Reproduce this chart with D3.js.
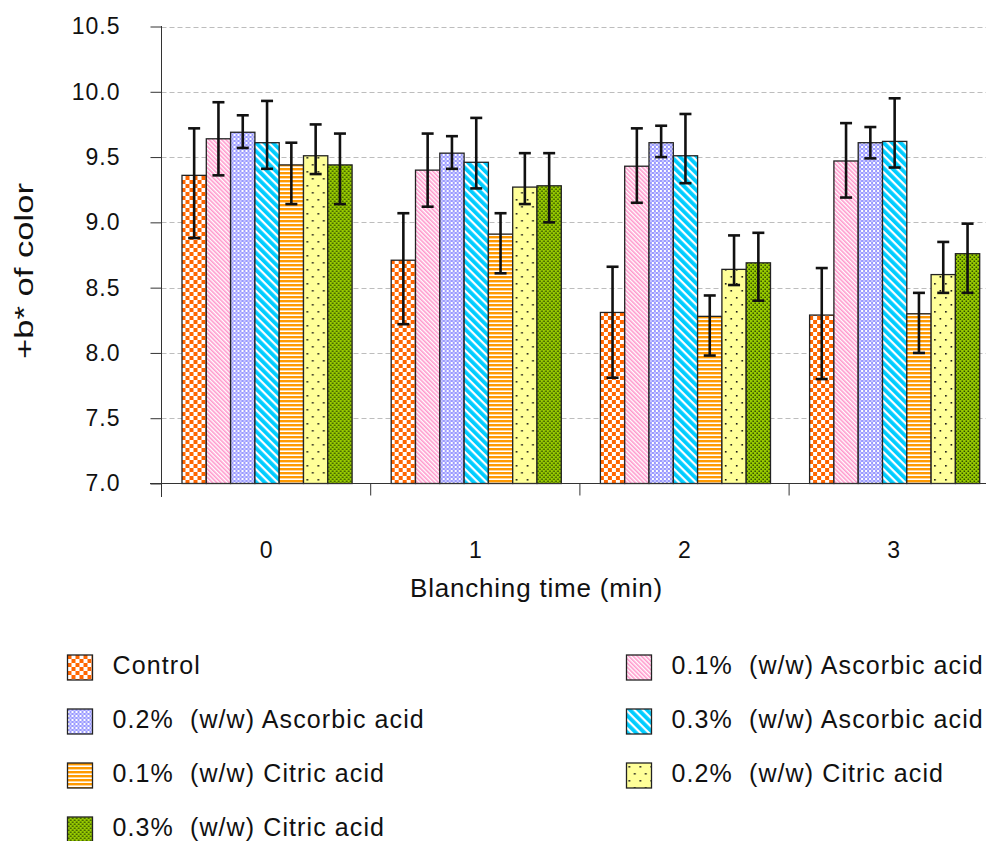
<!DOCTYPE html>
<html>
<head>
<meta charset="utf-8">
<script src="https://cdn.jsdelivr.net/npm/d3@7"></script>
<style>
  html, body { margin: 0; padding: 0; background: #fff; }
  svg { display: block; }
  text { font-family: "Liberation Sans", Arial, sans-serif; fill: #111; }
</style>
</head>
<body>
<svg id="chart" width="986" height="841"></svg>
<script>
// Blanching time groups (minutes)
const categories = ["0", "1", "2", "3"];

// Treatments, in legend order
const series = [
  "Control",
  "0.1% (w/w) Ascorbic acid",
  "0.2% (w/w) Ascorbic acid",
  "0.3% (w/w) Ascorbic acid",
  "0.1% (w/w) Citric acid",
  "0.2% (w/w) Citric acid",
  "0.3% (w/w) Citric acid"
];

// Mean +b* per treatment, one array per blanching time
const means0 = [9.36, 9.64, 9.69, 9.61, 9.44, 9.51, 9.44];
const means1 = [8.71, 9.40, 9.53, 9.46, 8.91, 9.27, 9.28];
const means2 = [8.31, 9.43, 9.61, 9.51, 8.28, 8.64, 8.69];
const means3 = [8.29, 9.47, 9.61, 9.62, 8.30, 8.60, 8.76];

// Upper and lower ends of the error bars
const upper0 = [9.72, 9.92, 9.82, 9.93, 9.61, 9.75, 9.68];
const lower0 = [8.88, 9.36, 9.57, 9.41, 9.14, 9.37, 9.14];
const upper1 = [9.07, 9.68, 9.66, 9.80, 9.07, 9.53, 9.53];
const lower1 = [8.22, 9.12, 9.41, 9.26, 8.61, 9.14, 9.00];
const upper2 = [8.66, 9.72, 9.74, 9.83, 8.44, 8.90, 8.92];
const lower2 = [7.81, 9.15, 9.50, 9.30, 7.98, 8.52, 8.40];
const upper3 = [8.65, 9.76, 9.73, 9.95, 8.46, 8.85, 8.99];
const lower3 = [7.80, 9.19, 9.49, 9.42, 8.00, 8.46, 8.46];

const yTicks = [7.0, 7.5, 8.0, 8.5, 9.0, 9.5, 10.0, 10.5];

const meansByGroup = [means0, means1, means2, means3];
const upperByGroup = [upper0, upper1, upper2, upper3];
const lowerByGroup = [lower0, lower1, lower2, lower3];

const rows = [];
categories.forEach((c, gi) => {
  series.forEach((s, si) => {
    rows.push({ cat: c, ser: s, si, v: meansByGroup[gi][si], hi: upperByGroup[gi][si], lo: lowerByGroup[gi][si] });
  });
});

const svg = d3.select("#chart");
const defs = svg.append("defs");

// ---- fill patterns ----
function pat(id, w, h, transform) {
  const p = defs.append("pattern").attr("id", id)
    .attr("patternUnits", "userSpaceOnUse").attr("width", w).attr("height", h);
  if (transform) p.attr("patternTransform", transform);
  return p;
}
// Control: orange checkerboard
let p = pat("p0", 8, 8);
p.append("rect").attr("width", 8).attr("height", 8).attr("fill", "#fff");
p.append("rect").attr("width", 4).attr("height", 4).attr("fill", "#FF6600");
p.append("rect").attr("x", 4).attr("y", 4).attr("width", 4).attr("height", 4).attr("fill", "#FF6600");
// 0.1% AA: fine pink downward diagonal
p = pat("p1", 3, 3, "rotate(-45)");
p.append("rect").attr("width", 3).attr("height", 3).attr("fill", "#fff");
p.append("rect").attr("width", 1.6).attr("height", 3).attr("fill", "#FF99CC");
// 0.2% AA: small lavender check
p = pat("p2", 4, 4);
p.append("rect").attr("width", 4).attr("height", 4).attr("fill", "#fff");
p.append("rect").attr("width", 2).attr("height", 2).attr("fill", "#9999FF");
p.append("rect").attr("x", 2).attr("y", 2).attr("width", 2).attr("height", 2).attr("fill", "#9999FF");
p.append("rect").attr("x", 2).attr("y", 0).attr("width", 2).attr("height", 2).attr("fill", "#C8C8FF");
// 0.3% AA: wide cyan downward diagonal
p = pat("p3", 6, 6, "rotate(-45)");
p.append("rect").attr("width", 6).attr("height", 6).attr("fill", "#fff");
p.append("rect").attr("width", 3.8).attr("height", 6).attr("fill", "#00CCFF");
// 0.1% CA: orange horizontal stripes
p = pat("p4", 4, 4);
p.append("rect").attr("width", 4).attr("height", 4).attr("fill", "#fff");
p.append("rect").attr("width", 4).attr("height", 2.4).attr("fill", "#FF9900");
// 0.2% CA: light yellow with sparse dots
p = pat("p5", 11, 14);
p.append("rect").attr("width", 11).attr("height", 14).attr("fill", "#FFFF99");
p.append("rect").attr("x", 2).attr("y", 3).attr("width", 1.6).attr("height", 1.6).attr("fill", "#111");
p.append("rect").attr("x", 7.5).attr("y", 10).attr("width", 1.6).attr("height", 1.6).attr("fill", "#111");
// 0.3% CA: green with dense dark dots
p = pat("p6", 4, 4);
p.append("rect").attr("width", 4).attr("height", 4).attr("fill", "#99CC00");
p.append("rect").attr("x", 0.5).attr("y", 0.5).attr("width", 1.5).attr("height", 1.5).attr("fill", "#2E4A00");
p.append("rect").attr("x", 2.5).attr("y", 2.5).attr("width", 1.5).attr("height", 1.5).attr("fill", "#2E4A00");

const fillFor = i => `url(#p${i})`;

// ---- scales ----
const plotLeft = 161.5, bandW = 209.2;
const x0 = d3.scaleBand().domain(categories).range([plotLeft, plotLeft + bandW * categories.length]).padding(0);
const x1 = d3.scaleBand().domain(series).range([20.5, 20.5 + 24.3 * series.length]).padding(0);
const y = d3.scaleLinear().domain([7.0, 10.5]).range([483.5, 26.5]);

// ---- gridlines ----
svg.append("g").selectAll("line").data(yTicks.filter(t => t > 7.0)).join("line")
  .attr("x1", plotLeft).attr("x2", 986)
  .attr("y1", d => Math.round(y(d)) + 0.5).attr("y2", d => Math.round(y(d)) + 0.5)
  .attr("stroke", "#bdbdbd").attr("stroke-width", 1).attr("stroke-dasharray", "5,3");

// ---- y axis ----
const yAxis = d3.axisLeft(y).tickValues(yTicks).tickFormat(d3.format(".1f")).tickSize(11).tickPadding(30);
const gy = svg.append("g").attr("transform", `translate(${plotLeft},0)`).call(yAxis);
gy.select(".domain").remove();
gy.selectAll(".tick line").attr("stroke", "#333");
gy.selectAll(".tick text").attr("font-size", 23).style("letter-spacing", "1px")
  .attr("font-family", "Liberation Sans, Arial, sans-serif").attr("fill", "#111");
svg.append("line").attr("x1", plotLeft).attr("x2", plotLeft).attr("y1", 26).attr("y2", 497)
  .attr("stroke", "#333").attr("stroke-width", 1);

// ---- bars ----
const groups = svg.append("g").selectAll("g").data(categories).join("g")
  .attr("transform", d => `translate(${x0(d)},0)`);
groups.selectAll("rect").data(c => rows.filter(r => r.cat === c)).join("rect")
  .attr("x", d => x1(d.ser))
  .attr("y", d => y(d.v))
  .attr("width", x1.bandwidth())
  .attr("height", d => y(7.0) - y(d.v))
  .attr("fill", d => fillFor(d.si))
  .attr("stroke", "#222").attr("stroke-width", 1.3);

// ---- error bars ----
const eb = groups.selectAll("g.err").data(c => rows.filter(r => r.cat === c)).join("g").attr("class", "err")
  .attr("transform", d => `translate(${x1(d.ser) + x1.bandwidth() / 2},0)`);
eb.append("line").attr("y1", d => y(d.hi)).attr("y2", d => y(d.lo))
  .attr("stroke", "#111").attr("stroke-width", 2.6);
eb.append("line").attr("x1", -6).attr("x2", 6).attr("y1", d => y(d.hi)).attr("y2", d => y(d.hi))
  .attr("stroke", "#111").attr("stroke-width", 2.6);
eb.append("line").attr("x1", -6).attr("x2", 6).attr("y1", d => y(d.lo)).attr("y2", d => y(d.lo))
  .attr("stroke", "#111").attr("stroke-width", 2.6);

// ---- x axis ----
svg.append("line").attr("x1", 150).attr("x2", 986).attr("y1", y(7.0)).attr("y2", y(7.0))
  .attr("stroke", "#333").attr("stroke-width", 1.2);
svg.append("g").selectAll("line").data(categories.slice(1)).join("line")
  .attr("x1", d => x0(d)).attr("x2", d => x0(d))
  .attr("y1", y(7.0)).attr("y2", y(7.0) + 12)
  .attr("stroke", "#333").attr("stroke-width", 1);
svg.append("g").selectAll("text").data(categories).join("text")
  .attr("x", d => x0(d) + x0.bandwidth() / 2).attr("y", 558)
  .attr("text-anchor", "middle").attr("font-size", 23).text(d => d);

svg.append("text").attr("x", 536.5).attr("y", 597).attr("text-anchor", "middle")
  .attr("font-size", 26).style("letter-spacing", "0.8px").text("Blanching time (min)");

svg.append("text").attr("transform", "translate(33,271) rotate(-90)")
  .attr("text-anchor", "middle").attr("font-size", 25)
  .attr("textLength", 176).attr("lengthAdjust", "spacingAndGlyphs")
  .text("+b* of color");

// ---- legend ----
const legX = [67.5, 626.5];
const legY0 = 655, legStep = 54;
const leg = svg.append("g").selectAll("g").data(series).join("g")
  .attr("transform", (d, i) => `translate(${legX[i % 2]},${legY0 + Math.floor(i / 2) * legStep})`);
leg.append("rect").attr("width", 25).attr("height", 25)
  .attr("fill", (d, i) => fillFor(i)).attr("stroke", "#222").attr("stroke-width", 1.3);
leg.append("text").attr("x", 45).attr("y", 19).attr("font-size", 25)
  .style("letter-spacing", "1.1px").style("white-space", "pre")
  .text(d => d.replace("% ", "%  "));
</script>
</body>
</html>
